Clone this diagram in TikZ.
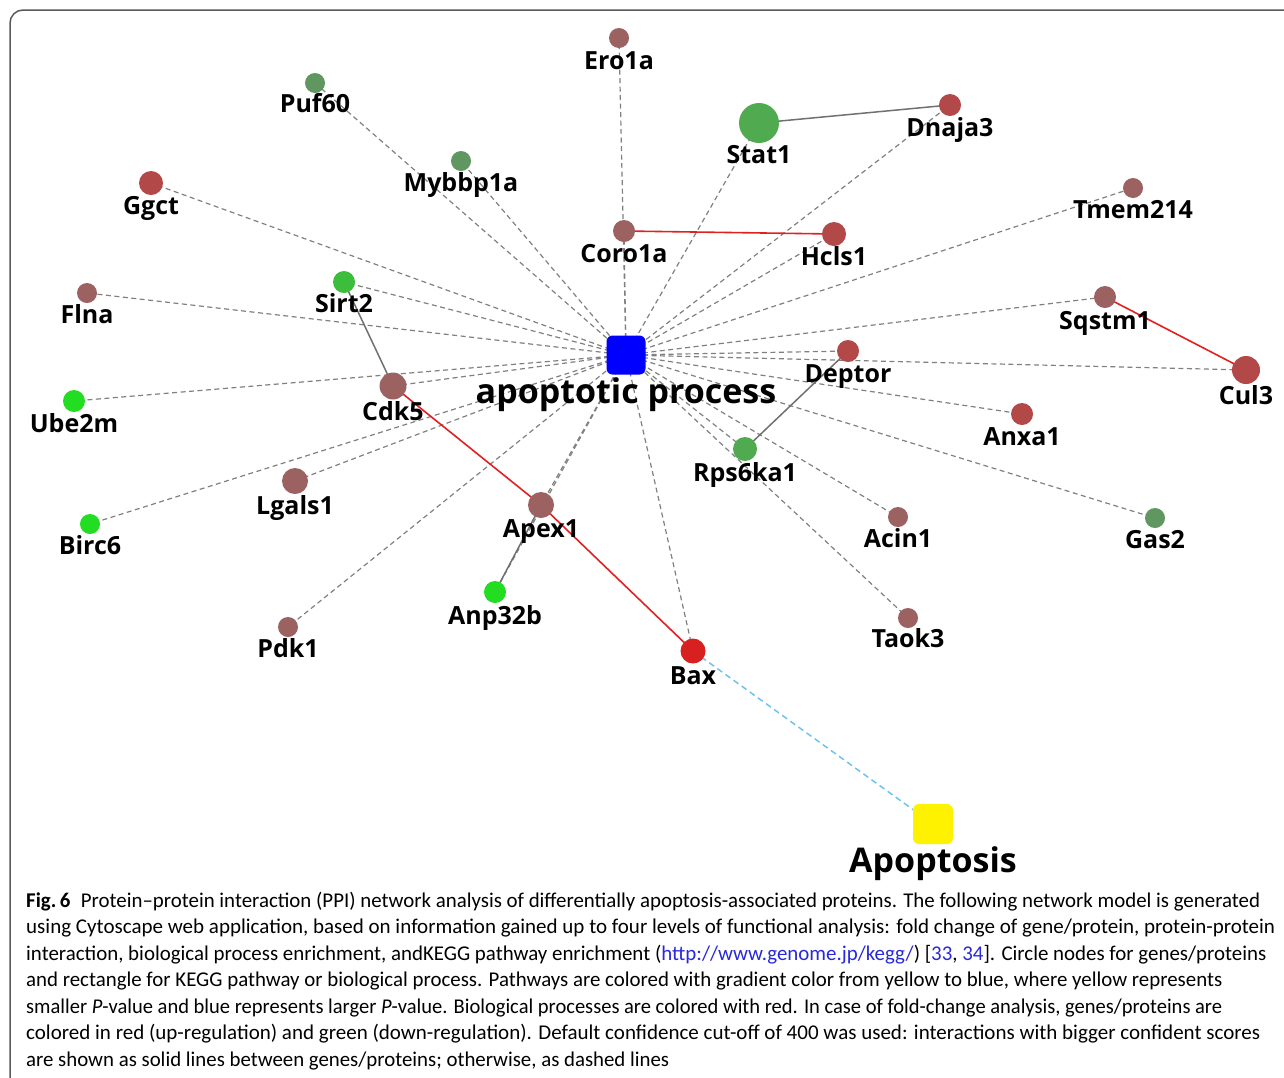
\documentclass[tikz,border=0pt]{standalone}
\usepackage{fontspec}
\usepackage{graphicx}
\setmainfont{Carlito}
\newfontfamily\lblfont{Open Sans}
\usetikzlibrary{backgrounds}
\definecolor{cbrown}{RGB}{156,98,98}
\definecolor{cred}{RGB}{178,72,72}
\definecolor{cbax}{RGB}{216,32,32}
\definecolor{cgmute}{RGB}{96,150,96}
\definecolor{cgmid}{RGB}{80,170,80}
\definecolor{cgsirt}{RGB}{60,190,60}
\definecolor{cgbright}{RGB}{34,221,34}
\definecolor{cedge}{RGB}{128,128,128}
\definecolor{csolid}{RGB}{112,112,112}
\definecolor{credline}{RGB}{226,32,32}
\definecolor{cblue}{RGB}{108,196,238}
\definecolor{clink}{RGB}{40,40,220}
\tikzset{
  gene/.style={circle, inner sep=0pt, minimum size=#1pt},
  procbox/.style={rectangle, rounded corners=6pt, inner sep=0pt, minimum size=#1pt},
  lbl/.style={anchor=base, inner sep=0pt, font=\lblfont\bfseries\fontsize{25}{30}\selectfont},
  biglbl/.style={anchor=base, inner sep=0pt, font=\lblfont\bfseries\fontsize{34}{40}\selectfont},
  dashedge/.style={draw=cedge, line width=1.2pt, dash pattern=on 5pt off 3.5pt},
  solidedge/.style={draw=csolid, line width=1.5pt},
  rededge/.style={draw=credline, line width=1.6pt},
  blueedge/.style={draw=cblue, line width=1.5pt, dash pattern=on 6pt off 4pt},
  captext/.style={anchor=base west, inner sep=0pt, font=\fontsize{21}{24}\selectfont}
}
\begin{document}
\begin{tikzpicture}[x=1pt,y=-1pt]
\useasboundingbox (0,0) rectangle (1284,1077);
\begin{scope}
\clip (0,0) rectangle (1284,1077);
\draw[draw=black!65, line width=1.5pt, rounded corners=13pt] (10,1100) -- (10,10) -- (1300,10);
\end{scope}
% nodes
\node[procbox=39, fill=blue] (c) at (626,355) {};
\node[procbox=40, fill=yellow] (apo) at (933,824) {};
\node[gene=20, fill=cbrown] (ero) at (619,38) {};
\node[gene=20, fill=cgmute] (puf) at (315,83) {};
\node[gene=20, fill=cgmute] (myb) at (461,161) {};
\node[gene=40, fill=cgmid] (stat) at (759,123) {};
\node[gene=22, fill=cred] (dna) at (950,105) {};
\node[gene=24, fill=cred] (ggct) at (151,183) {};
\node[gene=20, fill=cbrown] (tmem) at (1133,188) {};
\node[gene=22, fill=cbrown] (coro) at (624,231) {};
\node[gene=24, fill=cred] (hcls) at (834,234) {};
\node[gene=20, fill=cbrown] (flna) at (87,293) {};
\node[gene=22, fill=cgsirt] (sirt) at (344,282) {};
\node[gene=22, fill=cbrown] (sqs) at (1105,297) {};
\node[gene=22, fill=cred] (dep) at (848,351) {};
\node[gene=28, fill=cred] (cul) at (1246,370) {};
\node[gene=22, fill=cgbright] (ube) at (74,401) {};
\node[gene=27, fill=cbrown] (cdk) at (393,386) {};
\node[gene=22, fill=cred] (anx) at (1022,414) {};
\node[gene=24, fill=cgmid] (rps) at (745,449) {};
\node[gene=26, fill=cbrown] (lga) at (295,481) {};
\node[gene=20, fill=cgbright] (bir) at (90,524) {};
\node[gene=26, fill=cbrown] (apex) at (541,505) {};
\node[gene=20, fill=cbrown] (acin) at (898,517) {};
\node[gene=20, fill=cgmute] (gas) at (1155,518) {};
\node[gene=22, fill=cgbright] (anp) at (495,592) {};
\node[gene=20, fill=cbrown] (pdk) at (288,627) {};
\node[gene=20, fill=cbrown] (tao) at (908,618) {};
\node[gene=25, fill=cbax] (bax) at (693,651) {};
% edges
\begin{scope}[on background layer]
\foreach \n in {ero,puf,myb,stat,dna,ggct,tmem,coro,hcls,flna,sirt,sqs,dep,cul,ube,cdk,anx,rps,lga,bir,apex,acin,gas,anp,pdk,tao,bax}
  \draw[dashedge] (c.center) -- (\n.center);
\draw[solidedge] (stat.center) -- (dna.center);
\draw[solidedge] (sirt.center) -- (cdk.center);
\draw[solidedge] (dep.center) -- (rps.center);
\draw[solidedge] (anp.center) -- (apex.center);
\draw[rededge] (coro.center) -- (hcls.center);
\draw[rededge] (sqs.center) -- (cul.center);
\draw[rededge] (cdk.center) -- (apex.center);
\draw[rededge] (apex.center) -- (bax.center);
\draw[blueedge] (bax.center) -- (apo.center);
\end{scope}
% labels
\node[lbl] (lero) at (619,69) {Ero1a};
\node[lbl] (lpuf) at (315,112) {Puf60};
\node[lbl] (lmyb) at (461,191) {Mybbp1a};
\node[lbl] (lstat) at (759,163) {Stat1};
\node[lbl] (ldna) at (950,136) {Dnaja3};
\node[lbl] (lggct) at (151,214) {Ggct};
\node[lbl] (ltmem) at (1133,218) {Tmem214};
\node[lbl] (lcoro) at (624,262) {Coro1a};
\node[lbl] (lhcls) at (834,265) {Hcls1};
\node[lbl] (lflna) at (87,323) {Flna};
\node[lbl] (lsirt) at (344,312) {Sirt2};
\node[lbl] (lsqs) at (1105,329) {Sqstm1};
\node[lbl] (ldep) at (848,382) {Deptor};
\node[lbl] (lcul) at (1246,404) {Cul3};
\node[lbl] (lube) at (74,432) {Ube2m};
\node[lbl] (lcdk) at (393,420) {Cdk5};
\node[biglbl] (lc) at (626,403) {apoptotic process};
\node[lbl] (lanx) at (1022,445) {Anxa1};
\node[lbl] (lrps) at (745,481) {Rps6ka1};
\node[lbl] (llga) at (295,514) {Lgals1};
\node[lbl] (lbir) at (90,554) {Birc6};
\node[lbl] (lapex) at (541,537) {Apex1};
\node[lbl] (lacin) at (898,547) {Acin1};
\node[lbl] (lgas) at (1155,548) {Gas2};
\node[lbl] (lanp) at (495,624) {Anp32b};
\node[lbl] (lpdk) at (288,657) {Pdk1};
\node[lbl] (ltao) at (908,647) {Taok3};
\node[lbl] (lbax) at (693,684) {Bax};
\node[biglbl] (lapo) at (933,872) {Apoptosis};
% caption
\node[captext] (cap1) at (26,907) {\resizebox{1234pt}{\height}{\textbf{Fig.\,6}\enspace Protein–protein interaction (PPI) network analysis of differentially apoptosis-associated proteins. The following network model is generated}};
\node[captext] (cap2) at (26,933) {\resizebox{1249pt}{\height}{using Cytoscape web application, based on information gained up to four levels of functional analysis: fold change of gene/protein, protein-protein}};
\node[captext] (cap3) at (26,960) {\resizebox{1240pt}{\height}{interaction, biological process enrichment, andKEGG pathway enrichment (\textcolor{clink}{http://www.genome.jp/kegg/}) [\textcolor{clink}{33}, \textcolor{clink}{34}]. Circle nodes for genes/proteins}};
\node[captext] (cap4) at (26,986) {\resizebox{1196pt}{\height}{and rectangle for KEGG pathway or biological process. Pathways are colored with gradient color from yellow to blue, where yellow represents}};
\node[captext] (cap5) at (26,1013) {\resizebox{1196pt}{\height}{smaller \textit{P}-value and blue represents larger \textit{P}-value. Biological processes are colored with red. In case of fold-change analysis, genes/proteins are}};
\node[captext] (cap6) at (26,1039) {\resizebox{1234pt}{\height}{colored in red (up-regulation) and green (down-regulation). Default confidence cut-off of 400 was used: interactions with bigger confident scores}};
\node[captext] (cap7) at (26,1066) {\resizebox{643pt}{\height}{are shown as solid lines between genes/proteins; otherwise, as dashed lines}};
\end{tikzpicture}
\end{document}
